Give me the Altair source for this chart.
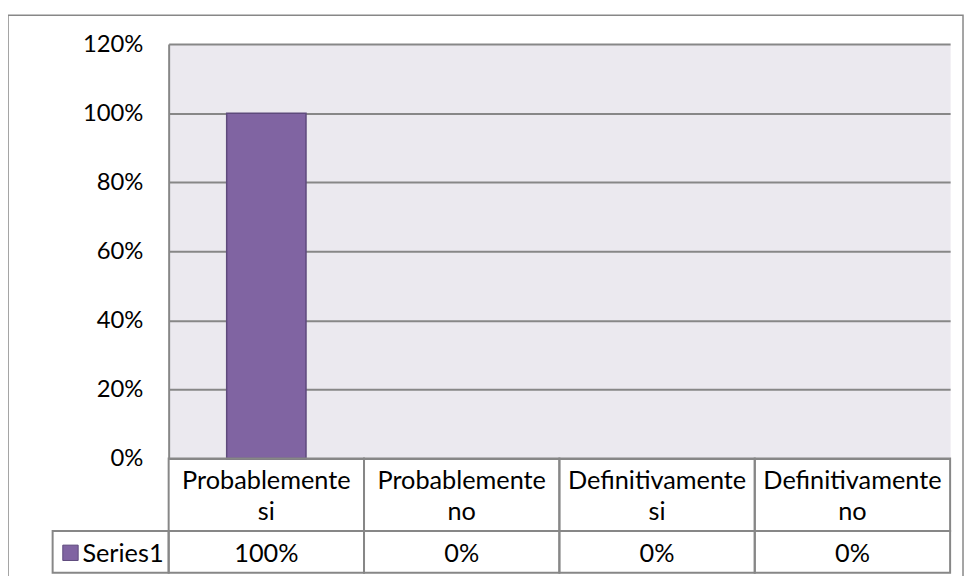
import altair as alt
import pandas as pd

# ---- data ----
categories = ["Probablemente si", "Probablemente no", "Definitivamente si", "Definitivamente no"]
values = [1.0, 0.0, 0.0, 0.0]
series_name = "Series1"
y_ticks = [0, 0.2, 0.4, 0.6, 0.8, 1.0, 1.2]

df = pd.DataFrame({"cat": categories, "val": values})
df_series = pd.DataFrame({"series": [series_name]})

# ---- style ----
W, H = 788, 418
FONT = "Lato"
FS = 24
FS_T = 25.5
GRAY = "#878787"
PURPLE = "#8064A2"
PURPLE_DARK = "#5E4A7C"
HEADER_H = 73
ROW_H = 42

xenc = alt.X("cat:N", sort=categories,
             scale=alt.Scale(paddingInner=0, paddingOuter=0), axis=None)

base = alt.Chart(df)

frame = alt.Chart(df_series).mark_rect(
    fillOpacity=0, stroke=GRAY, strokeWidth=1.5
).encode(
    x=alt.value(-162), x2=alt.value(801), y=alt.value(-29), y2=alt.value(560)
)

bars = base.transform_filter("datum.val > 0").mark_bar(
    width=alt.RelativeBandSize(0.406), color=PURPLE, stroke=PURPLE_DARK, strokeWidth=1.5
).encode(
    x=xenc,
    y=alt.Y("val:Q", scale=alt.Scale(domain=[0, 1.2]),
            axis=alt.Axis(values=y_ticks, format="%", grid=True, gridColor=GRAY,
                          gridWidth=2, domainColor=GRAY, domainWidth=2, ticks=False,
                          labelPadding=26, labelFont=FONT, labelFontSize=FS,
                          labelColor="black", title=None)),
)

header_cells = base.mark_rect(fillOpacity=0, stroke=GRAY, strokeWidth=2).encode(
    x=xenc, y=alt.value(H), y2=alt.value(H + HEADER_H)
)
value_cells = base.mark_rect(fillOpacity=0, stroke=GRAY, strokeWidth=2).encode(
    x=xenc, y=alt.value(H + HEADER_H), y2=alt.value(H + HEADER_H + ROW_H)
)
header_text = base.mark_text(
    lineBreak=" ", font=FONT, fontSize=FS_T, baseline="middle", lineHeight=31, color="black"
).encode(x=xenc, y=alt.value(H + 23), text="cat:N")
value_text = base.mark_text(
    font=FONT, fontSize=FS_T, baseline="middle", color="black"
).encode(x=xenc, y=alt.value(H + HEADER_H + 23), text=alt.Text("val:Q", format=".0%"))

legend_cell = alt.Chart(df_series).mark_rect(fillOpacity=0, stroke=GRAY, strokeWidth=2).encode(
    x=alt.value(-117), x2=alt.value(0), y=alt.value(H + HEADER_H), y2=alt.value(H + HEADER_H + ROW_H)
)
legend_square = alt.Chart(df_series).mark_square(
    size=240, color=PURPLE, stroke=PURPLE_DARK, strokeWidth=1, opacity=1
).encode(x=alt.value(-99), y=alt.value(H + HEADER_H + 22))
legend_text = alt.Chart(df_series).mark_text(
    font=FONT, fontSize=FS_T, baseline="middle", align="left", color="black"
).encode(x=alt.value(-87), y=alt.value(H + HEADER_H + 23), text="series:N")

chart = alt.layer(
    frame, bars, header_cells, value_cells, header_text, value_text,
    legend_cell, legend_square, legend_text
).properties(
    width=W, height=H,
    autosize=alt.AutoSizeParams(type="none"),
    padding={"left": 162, "top": 34, "right": 14, "bottom": 116},
    view=alt.ViewBackground(fill="#EBE9EF", stroke="transparent"),
).configure(background="white")

chart.save("out.html", embed_options={"renderer": "svg", "actions": False})
